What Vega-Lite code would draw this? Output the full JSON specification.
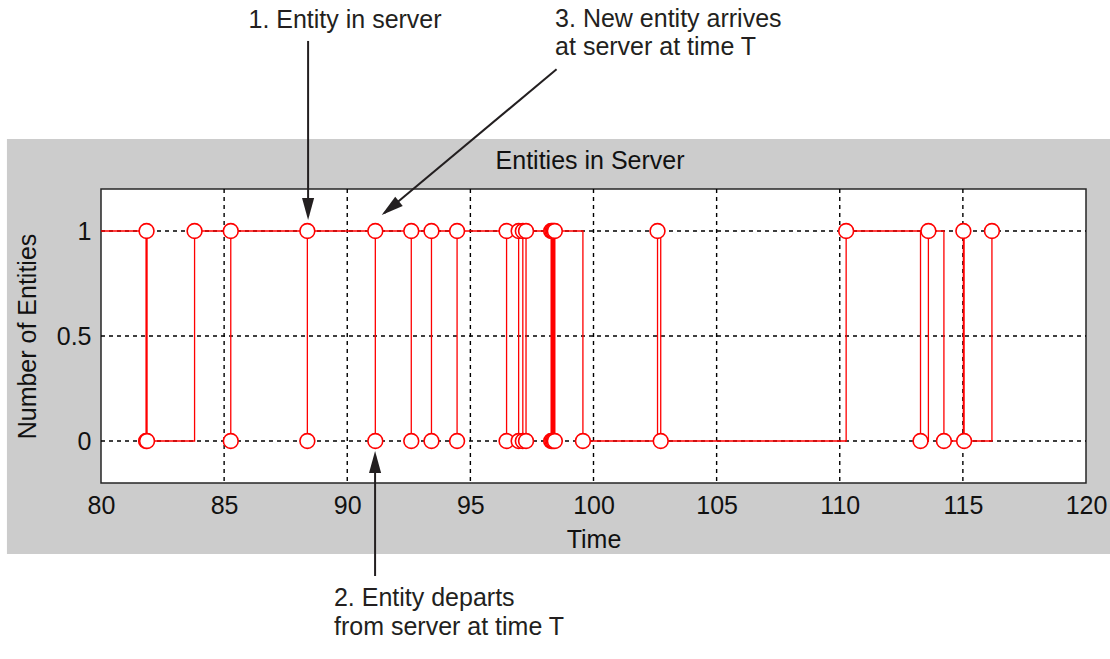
{
  "$schema": "https://vega.github.io/schema/vega-lite/v6.json",
  "width": 985,
  "height": 294,
  "autosize": "none",
  "padding": {"left": 101, "top": 189, "right": 24, "bottom": 176},
  "background": "white",
  "data": {"values": [{}]},
  "config": {
    "view": {"stroke": null},
    "font": "Liberation Sans",
    "axis": {
      "ticks": false, "domain": false, "grid": false,
      "labelFontSize": 25, "labelColor": "#111111", "labelPadding": 10, "labelFlush": false,
      "titleFontSize": 25, "titleFontWeight": "normal", "titleColor": "#111111"
    }
  },
  "datasets": {
    "events": [
      {"i": 0, "t": 78, "n": 1},
      {"i": 1, "t": 81.83, "n": 0},
      {"i": 2, "t": 81.85, "n": 1},
      {"i": 3, "t": 81.87, "n": 0},
      {"i": 4, "t": 83.8, "n": 1},
      {"i": 5, "t": 85.27, "n": 0},
      {"i": 6, "t": 85.27, "n": 1},
      {"i": 7, "t": 88.38, "n": 0},
      {"i": 8, "t": 88.38, "n": 1},
      {"i": 9, "t": 91.14, "n": 0},
      {"i": 10, "t": 91.14, "n": 1},
      {"i": 11, "t": 92.6, "n": 0},
      {"i": 12, "t": 92.6, "n": 1},
      {"i": 13, "t": 93.42, "n": 0},
      {"i": 14, "t": 93.42, "n": 1},
      {"i": 15, "t": 94.46, "n": 0},
      {"i": 16, "t": 94.46, "n": 1},
      {"i": 17, "t": 96.47, "n": 0},
      {"i": 18, "t": 96.47, "n": 1},
      {"i": 19, "t": 96.96, "n": 0},
      {"i": 20, "t": 96.96, "n": 1},
      {"i": 21, "t": 97.13, "n": 0},
      {"i": 22, "t": 97.13, "n": 1},
      {"i": 23, "t": 97.26, "n": 0},
      {"i": 24, "t": 97.26, "n": 1},
      {"i": 25, "t": 98.28, "n": 0},
      {"i": 26, "t": 98.28, "n": 1},
      {"i": 27, "t": 98.33, "n": 0},
      {"i": 28, "t": 98.33, "n": 1},
      {"i": 29, "t": 98.38, "n": 0},
      {"i": 30, "t": 98.38, "n": 1},
      {"i": 31, "t": 98.43, "n": 0},
      {"i": 32, "t": 98.43, "n": 1},
      {"i": 33, "t": 99.57, "n": 0},
      {"i": 34, "t": 102.6, "n": 1},
      {"i": 35, "t": 102.73, "n": 0},
      {"i": 36, "t": 110.26, "n": 1},
      {"i": 37, "t": 113.28, "n": 0},
      {"i": 38, "t": 113.6, "n": 1},
      {"i": 39, "t": 114.23, "n": 0},
      {"i": 40, "t": 115.02, "n": 1},
      {"i": 41, "t": 115.05, "n": 0},
      {"i": 42, "t": 116.18, "n": 1}
    ],
    "xgrid": [{"g": 85}, {"g": 90}, {"g": 95}, {"g": 100}, {"g": 105}, {"g": 110}, {"g": 115}],
    "ygrid": [{"g": 0}, {"g": 0.5}, {"g": 1}]
  },
  "layer": [
    {
      "mark": {"type": "rect", "color": "#cccccc", "clip": false},
      "encoding": {
        "x": {"datum": 76.18, "type": "quantitative", "title": "Time",
          "scale": {"domain": [80, 120], "nice": false, "zero": false},
          "axis": {"title": "Time", "values": [80, 85, 90, 95, 100, 105, 110, 115, 120], "titlePadding": 9, "zindex": 2, "grid": false, "ticks": false, "domain": false}},
        "x2": {"datum": 121.0},
        "y": {"datum": 1.438, "type": "quantitative", "title": "Number of Entities",
          "scale": {"domain": [-0.2, 1.2], "nice": false, "zero": false},
          "axis": {"title": "Number of Entities", "values": [0, 0.5, 1], "format": "~g", "titlePadding": 16, "zindex": 2, "grid": false, "ticks": false, "domain": false}},
        "y2": {"datum": -0.538}
      }
    },
    {
      "mark": {"type": "rect", "fill": "white", "stroke": "#262626", "strokeWidth": 1.5, "clip": false},
      "encoding": {
        "x": {"datum": 80, "type": "quantitative", "title": "Time"},
        "x2": {"datum": 120},
        "y": {"datum": 1.2, "type": "quantitative", "title": "Number of Entities"},
        "y2": {"datum": -0.2}
      }
    },
    {
      "data": {"name": "xgrid"},
      "mark": {"type": "rule", "color": "black", "strokeDash": [4, 4], "strokeWidth": 1.4},
      "encoding": {
        "x": {"field": "g", "type": "quantitative", "title": "Time"},
        "y": {"datum": 1.2, "type": "quantitative", "title": "Number of Entities"},
        "y2": {"datum": -0.2}
      }
    },
    {
      "data": {"name": "ygrid"},
      "mark": {"type": "rule", "color": "black", "strokeDash": [4, 4], "strokeWidth": 1.4},
      "encoding": {
        "y": {"field": "g", "type": "quantitative", "title": "Number of Entities"},
        "x": {"datum": 80, "type": "quantitative", "title": "Time"},
        "x2": {"datum": 120}
      }
    },
    {
      "data": {"name": "events"},
      "mark": {"type": "line", "interpolate": "step-after", "color": "#ff0000", "strokeWidth": 1.3, "clip": true},
      "encoding": {
        "x": {"field": "t", "type": "quantitative", "title": "Time"},
        "y": {"field": "n", "type": "quantitative", "title": "Number of Entities"},
        "order": {"field": "i", "type": "quantitative"}
      }
    },
    {
      "data": {"name": "events"},
      "mark": {"type": "point", "shape": "circle", "filled": true, "fill": "white", "stroke": "#ff0000", "strokeWidth": 1.6, "size": 220, "opacity": 1, "clip": true},
      "encoding": {
        "x": {"field": "t", "type": "quantitative", "title": "Time"},
        "y": {"field": "n", "type": "quantitative", "title": "Number of Entities"}
      }
    },
    {
      "mark": {"type": "rule", "color": "#231f20", "strokeWidth": 2, "clip": false},
      "encoding": {
        "x": {"datum": 88.41, "type": "quantitative", "title": "Time"},
        "y": {"datum": 1.905, "type": "quantitative", "title": "Number of Entities"},
        "x2": {"datum": 88.41},
        "y2": {"datum": 1.07}
      }
    },
    {
      "mark": {"type": "point", "shape": "M0,0L0.55,2L-0.55,2Z", "filled": true, "color": "#231f20", "size": 484, "opacity": 1, "angle": 180, "clip": false},
      "encoding": {
        "x": {"datum": 88.41, "type": "quantitative", "title": "Time"},
        "y": {"datum": 1.052, "type": "quantitative", "title": "Number of Entities"}
      }
    },
    {
      "mark": {"type": "rule", "color": "#231f20", "strokeWidth": 2, "clip": false},
      "encoding": {
        "x": {"datum": 91.13, "type": "quantitative", "title": "Time"},
        "y": {"datum": -0.643, "type": "quantitative", "title": "Number of Entities"},
        "x2": {"datum": 91.13},
        "y2": {"datum": -0.07}
      }
    },
    {
      "mark": {"type": "point", "shape": "M0,0L0.55,2L-0.55,2Z", "filled": true, "color": "#231f20", "size": 484, "opacity": 1, "angle": 0, "clip": false},
      "encoding": {
        "x": {"datum": 91.13, "type": "quantitative", "title": "Time"},
        "y": {"datum": -0.048, "type": "quantitative", "title": "Number of Entities"}
      }
    },
    {
      "mark": {"type": "rule", "color": "#231f20", "strokeWidth": 2, "clip": false},
      "encoding": {
        "x": {"datum": 98.5, "type": "quantitative", "title": "Time"},
        "y": {"datum": 1.77, "type": "quantitative", "title": "Number of Entities"},
        "x2": {"datum": 91.5},
        "y2": {"datum": 1.085}
      }
    },
    {
      "mark": {"type": "point", "shape": "M0,0L0.55,2L-0.55,2Z", "filled": true, "color": "#231f20", "size": 484, "opacity": 1, "angle": 231.6, "clip": false},
      "encoding": {
        "x": {"datum": 91.4, "type": "quantitative", "title": "Time"},
        "y": {"datum": 1.076, "type": "quantitative", "title": "Number of Entities"}
      }
    },
    {
      "mark": {"type": "text", "text": "Entities in Server", "fontSize": 25, "color": "#111111", "align": "center", "baseline": "middle", "clip": false},
      "encoding": {
        "x": {"datum": 99.86, "type": "quantitative", "title": "Time"},
        "y": {"datum": 1.333, "type": "quantitative", "title": "Number of Entities"}
      }
    },
    {
      "mark": {"type": "text", "text": "1. Entity in server", "fontSize": 25, "color": "#231f20", "align": "center", "baseline": "middle", "clip": false},
      "encoding": {
        "x": {"datum": 89.91, "type": "quantitative", "title": "Time"},
        "y": {"datum": 2.005, "type": "quantitative", "title": "Number of Entities"}
      }
    },
    {
      "mark": {"type": "text", "text": ["3. New entity arrives", "at server at time T"], "lineHeight": 28, "fontSize": 25, "color": "#231f20", "align": "left", "baseline": "middle", "clip": false},
      "encoding": {
        "x": {"datum": 98.44, "type": "quantitative", "title": "Time"},
        "y": {"datum": 2.01, "type": "quantitative", "title": "Number of Entities"}
      }
    },
    {
      "mark": {"type": "text", "text": ["2. Entity departs", "from server at time T"], "lineHeight": 29, "fontSize": 25, "color": "#231f20", "align": "left", "baseline": "middle", "clip": false},
      "encoding": {
        "x": {"datum": 89.46, "type": "quantitative", "title": "Time"},
        "y": {"datum": -0.746, "type": "quantitative", "title": "Number of Entities"}
      }
    }
  ]
}
